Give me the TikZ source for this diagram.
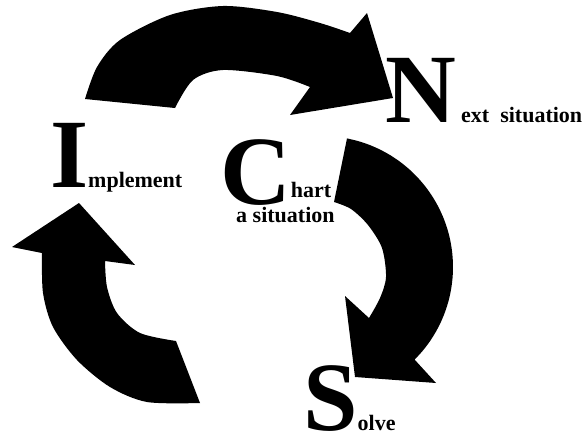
\documentclass[tikz,border=0pt]{standalone}
\usepackage{fontspec}
\setmainfont{Liberation Serif}
\newcommand{\bigfnt}{\fontsize{98}{98}\selectfont}
\tikzset{
  bigletter/.style={font=\bigfnt\bfseries, inner sep=0pt, anchor=base west, text depth=0pt},
  wordtext/.style={font=\fontsize{22}{24}\selectfont\bfseries, inner sep=0pt, anchor=base west},
  bigarrow/.style={fill=black}
}
\begin{document}
\begin{tikzpicture}[x=1pt,y=-1pt]
\useasboundingbox (0,0) rectangle (586,434);
% top arrow (Implement -> Next)
\fill[bigarrow] plot[smooth] coordinates {(85,99) (97,67) (120,40) (170,15) (223,6) (277,12) (320,23) (350,33)}
  -- (367,13) -- (393,98) -- (290,115) -- (310,87)
  -- plot[smooth] coordinates {(310,87) (277,76) (223,70) (193,80) (175,108)} -- cycle;
% right arrow (Chart -> Solve)
\fill[bigarrow] plot[smooth, domain=-79:45, samples=25] ({322+131*cos(\x)},{267+131*sin(\x)})
  -- (436,383) -- (355,377) -- (345,296) -- (369,318)
  -- plot[smooth] coordinates {(369,318) (380,298) (386,277) (382,248) (368,225) (351,209) (334,202)} -- cycle;
% left arrow (Solve -> Implement)
\fill[bigarrow] (79,203) -- (135,265) -- (105,261)
  -- plot[smooth] coordinates {(105,261) (107,287) (117,313) (140,333) (176,341)}
  -- plot[smooth] coordinates {(200,403) (147,402) (110,387) (77,360) (53,327) (43,293) (42,253)}
  -- (12,247) -- cycle;
% labels
\node[bigletter] (bigI) at (50,187) {I};
\node[wordtext] (wI) at (88,187) {mplement};
\node[bigletter] (chart) at (220,204) {C\fontsize{22}{24}\selectfont\raisebox{7pt}{hart}};
\node[wordtext, text height=15pt] (wC2) at (236,222) {a situation};
\node[bigletter] (bigN) at (385,122) {N};
\node[wordtext] (wN) at (461,122) {ext\ \ situation};
\node[bigletter] (solve) at (303,430) {S\fontsize{22}{24}\selectfont olve};
\end{tikzpicture}
\end{document}
